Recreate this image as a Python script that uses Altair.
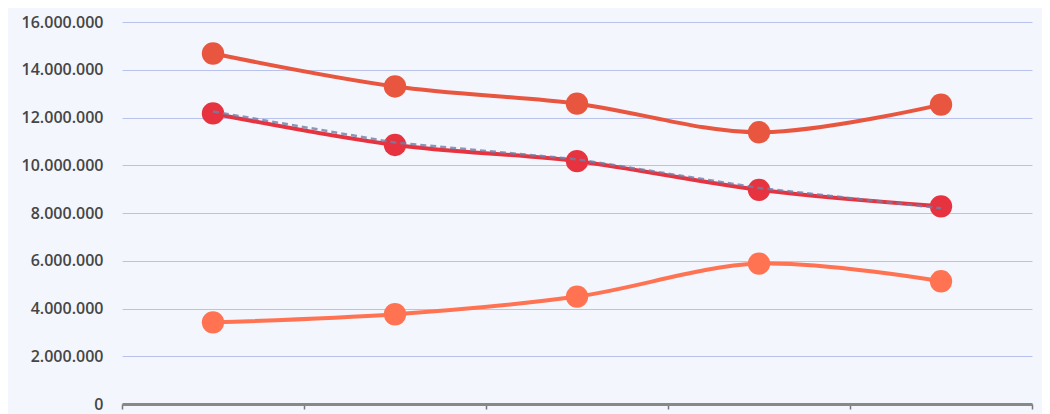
import altair as alt
import pandas as pd

categories = ["1", "2", "3", "4", "5"]
series_top = [14680000, 13300000, 12580000, 11380000, 12540000]
series_mid = [12170000, 10850000, 10170000, 8970000, 8280000]
series_low = [3420000, 3760000, 4500000, 5880000, 5140000]
series_dash = [12250000, 10950000, 10250000, 9050000, 8200000]

names = ["top", "mid", "low"]
colors = ["#E8563F", "#E6333F", "#FF7352"]

rows = []
for n, vals in zip(names, [series_top, series_mid, series_low]):
    for c, v in zip(categories, vals):
        rows.append({"cat": c, "value": v, "series": n})
df = pd.DataFrame(rows)
dfd = pd.DataFrame({"cat": categories, "value": series_dash})

x = alt.X("cat:N", sort=categories, title=None,
          scale=alt.Scale(paddingInner=0, paddingOuter=0),
          axis=alt.Axis(labels=False, ticks=True, tickBand="extent", tickSize=5,
                        tickColor="#777777", tickWidth=1.5, domainColor="#888888",
                        domainWidth=3, grid=False))
y = alt.Y("value:Q", title=None,
          scale=alt.Scale(domain=[0, 16000000], nice=False),
          axis=alt.Axis(values=list(range(0, 16000001, 2000000)),
                        labelExpr="replace(format(datum.value, ',d'), /,/g, '.')",
                        domain=False, ticks=False, labelPadding=19,
                        gridColor="#B9C2EC", gridWidth=1.2,
                        labelFont="Open Sans", labelFontSize=16, labelFontWeight=600,
                        labelColor="#454545"))
color = alt.Color("series:N", scale=alt.Scale(domain=names, range=colors), legend=None)

lines = alt.Chart(df).mark_line(strokeWidth=4, interpolate="catmull-rom").encode(
    x=x, y=y, color=color, detail="series:N")
points = alt.Chart(df).mark_circle(size=500, opacity=1).encode(x=x, y=y, color=color)
dash = alt.Chart(dfd).mark_line(strokeWidth=2.5, strokeDash=[6, 4], color="#7080A8",
                                 opacity=0.8).encode(x=x, y=y)

chart = alt.layer(lines, points, dash).properties(
    width=910, height=382, background="#F3F6FC",
    autosize=alt.AutoSizeParams(type="none"),
    padding={"left": 114, "top": 14, "right": 10, "bottom": 10},
).configure_view(stroke=None)

chart.save("out.html", embed_options={"renderer": "svg", "actions": False})
